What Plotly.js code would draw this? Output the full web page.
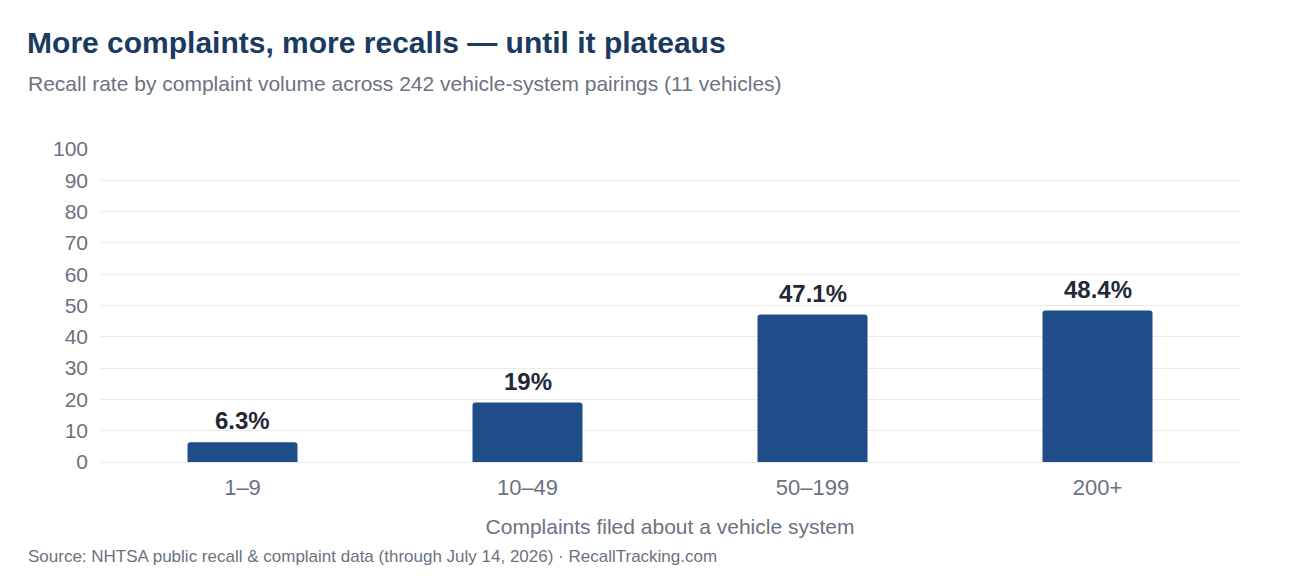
<!DOCTYPE html>
<html>
<head>
<meta charset="utf-8">
<script src="https://cdn.plot.ly/plotly-3.0.1.min.js"></script>
<style>
html,body{margin:0;padding:0;background:#fff;}
#chart{width:1290px;height:580px;}
</style>
</head>
<body>
<div id="chart"></div>
<script>
const categories = ["1–9", "10–49", "50–199", "200+"];
const recallRates = [6.3, 19, 47.1, 48.4];
const valueLabels = ["6.3%", "19%", "47.1%", "48.4%"];
const yTickValues = [0, 10, 20, 30, 40, 50, 60, 70, 80, 90, 100];

const FONT = "Liberation Sans, Arial, Helvetica, sans-serif";

const trace = {
  type: "bar",
  x: categories,
  y: recallRates,
  marker: {color: "#1e4d88", line: {width: 0}},
  hoverinfo: "skip"
};

const valueAnnotations = categories.map((c, i) => ({
  x: c,
  y: recallRates[i],
  xref: "x", yref: "y",
  text: "<b>" + valueLabels[i] + "</b>",
  showarrow: false,
  yanchor: "bottom",
  yshift: 6,
  font: {family: FONT, size: 24, color: "#1f2937"}
}));

const layout = {
  width: 1290,
  height: 580,
  margin: {l: 100, r: 50, t: 149, b: 118},
  paper_bgcolor: "#ffffff",
  plot_bgcolor: "#ffffff",
  bargap: 0.614,
  barcornerradius: 3,
  showlegend: false,
  font: {family: FONT, color: "#6b7280"},
  title: {
    text: "<b>More complaints, more recalls — until it plateaus</b>",
    font: {family: FONT, size: 30, color: "#1a3a5e"},
    x: 0.021, xanchor: "left",
    y: 0.927, yanchor: "middle"
  },
  xaxis: {
    type: "category",
    tickfont: {family: FONT, size: 22, color: "#6b7280"},
    showgrid: false,
    zeroline: false,
    showline: false,
    ticks: "",
    ticklabelstandoff: 10,
    title: {
      text: "Complaints filed about a vehicle system",
      font: {family: FONT, size: 21, color: "#6b7280"},
      standoff: 20
    }
  },
  yaxis: {
    range: [0, 100],
    tickvals: yTickValues,
    tickfont: {family: FONT, size: 21, color: "#6b7280"},
    showgrid: true,
    gridcolor: "#ebebeb",
    gridwidth: 1,
    zeroline: true,
    zerolinecolor: "#ebebeb",
    zerolinewidth: 1,
    showline: false,
    ticks: "",
    ticklabelstandoff: 11
  },
  annotations: valueAnnotations.concat([
    {
      text: "Recall rate by complaint volume across 242 vehicle-system pairings (11 vehicles)",
      xref: "paper", yref: "paper",
      x: 0, xshift: -74, xanchor: "left",
      y: 1, yshift: 66, yanchor: "middle",
      showarrow: false,
      font: {family: FONT, size: 21, color: "#6b7280"}
    },
    {
      text: "Source: NHTSA public recall &amp; complaint data (through July 14, 2026) · RecallTracking.com",
      xref: "paper", yref: "paper",
      x: 0, xshift: -74, xanchor: "left",
      y: 0, yshift: -94, yanchor: "middle",
      showarrow: false,
      font: {family: FONT, size: 17, color: "#6b7280"}
    }
  ])
};

Plotly.newPlot("chart", [trace], layout, {displayModeBar: false, staticPlot: true});
</script>
</body>
</html>
